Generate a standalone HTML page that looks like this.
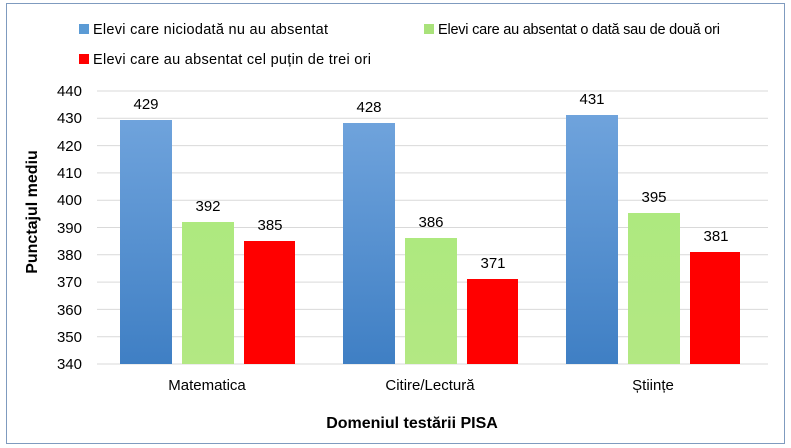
<!DOCTYPE html>
<html><head><meta charset="utf-8"><style>
html,body{margin:0;padding:0;background:#fff}
svg{display:block;font-family:"Liberation Sans",Calibri,sans-serif}
</style></head><body>
<svg width="791" height="448" viewBox="0 0 791 448">
<defs>
<linearGradient id="gb" x1="0" y1="0" x2="0" y2="1"><stop offset="0" stop-color="#6fa3dc"/><stop offset="1" stop-color="#3f7fc4"/></linearGradient>
<linearGradient id="gg" x1="0" y1="0" x2="0" y2="1"><stop offset="0" stop-color="#aee97f"/><stop offset="1" stop-color="#b3e883"/></linearGradient>
</defs>
<rect x="6.5" y="3.5" width="778" height="440" fill="#fff" stroke="#7f9bbf" stroke-width="1"/>
<g stroke="#d9d9d9" stroke-width="1">
<line x1="97" x2="768" y1="91" y2="91"/><line x1="97" x2="768" y1="118.3" y2="118.3"/>
<line x1="97" x2="768" y1="145.6" y2="145.6"/><line x1="97" x2="768" y1="172.9" y2="172.9"/>
<line x1="97" x2="768" y1="200.2" y2="200.2"/><line x1="97" x2="768" y1="227.5" y2="227.5"/>
<line x1="97" x2="768" y1="254.8" y2="254.8"/><line x1="97" x2="768" y1="282.1" y2="282.1"/>
<line x1="97" x2="768" y1="309.4" y2="309.4"/><line x1="97" x2="768" y1="336.7" y2="336.7"/>
<line x1="97" x2="768" y1="364" y2="364"/>
</g>
<g font-size="15" fill="#000" text-anchor="end">
<text x="82" y="96">440</text><text x="82" y="123">430</text><text x="82" y="151">420</text>
<text x="82" y="178">410</text><text x="82" y="205">400</text><text x="82" y="233">390</text>
<text x="82" y="260">380</text><text x="82" y="287">370</text><text x="82" y="315">360</text>
<text x="82" y="342">350</text><text x="82" y="369">340</text>
</g>
<g>
<rect x="120" y="120" width="52" height="244" fill="url(#gb)"/>
<rect x="182" y="222" width="52" height="142" fill="url(#gg)"/>
<rect x="244" y="241" width="51" height="123" fill="#ff0000"/>
<rect x="343" y="123" width="52" height="241" fill="url(#gb)"/>
<rect x="405" y="238" width="52" height="126" fill="url(#gg)"/>
<rect x="467" y="279" width="51" height="85" fill="#ff0000"/>
<rect x="566" y="115" width="52" height="249" fill="url(#gb)"/>
<rect x="628" y="213" width="52" height="151" fill="url(#gg)"/>
<rect x="690" y="252" width="50" height="112" fill="#ff0000"/>
</g>
<g font-size="15" text-anchor="middle">
<text x="146" y="109">429</text><text x="208" y="211">392</text><text x="270" y="230">385</text>
<text x="369" y="112">428</text><text x="431" y="227">386</text><text x="493" y="268">371</text>
<text x="592" y="104">431</text><text x="654" y="202">395</text><text x="716" y="241">381</text>
<text x="207" y="390">Matematica</text><text x="430" y="390">Citire/Lectură</text><text x="653" y="390">Științe</text>
</g>
<text x="412" y="428" font-size="16" font-weight="bold" text-anchor="middle">Domeniul testării PISA</text>
<text transform="translate(37,212) rotate(-90)" font-size="16" font-weight="bold" text-anchor="middle">Punctajul mediu</text>
<g font-size="14.5">
<rect x="79" y="24" width="10" height="10" fill="#5b9bd5"/><text x="93" y="34" textLength="235">Elevi care niciodată nu au absentat</text>
<rect x="424" y="24" width="10" height="10" fill="#a9e27a"/><text x="438" y="34" textLength="282">Elevi care au absentat o dată sau de două ori</text>
<rect x="79" y="54" width="10" height="10" fill="#ff0000"/><text x="93" y="64" textLength="278">Elevi care au absentat cel puțin de trei ori</text>
</g>
</svg>
</body></html>
